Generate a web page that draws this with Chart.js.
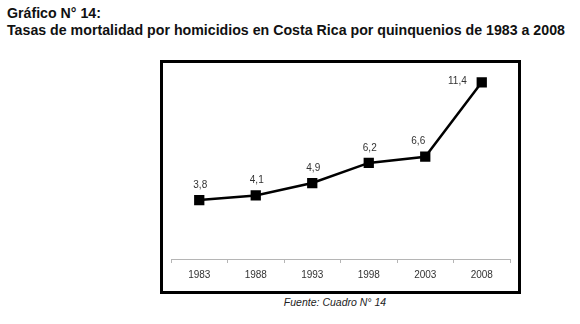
<!DOCTYPE html>
<html>
<head>
<meta charset="utf-8">
<script src="https://cdn.jsdelivr.net/npm/chart.js@4.4.1/dist/chart.umd.min.js"></script>
<style>
  body { margin: 0; background: #fff; width: 580px; height: 324px; position: relative; overflow: hidden; font-family: "Liberation Sans", Arial, sans-serif; }
  .title { position: absolute; left: 7px; top: 5px; font-weight: bold; font-size: 14.2px; line-height: 17px; color: #111; white-space: nowrap; }
  .box { position: absolute; left: 160px; top: 60px; width: 355px; height: 228px; border: 3px solid #000; }
  .source { position: absolute; left: 0; width: 670px; top: 296px; text-align: center; font-style: italic; font-size: 10.5px; color: #222; }
</style>
</head>
<body>
<div class="title" id="title">Gráfico N° 14:<br>Tasas de mortalidad por homicidios en Costa Rica por quinquenios de 1983 a 2008</div>
<div class="box"><canvas id="tasaChart" width="355" height="228"></canvas></div>
<div class="source">Fuente: Cuadro N° 14</div>
<script>
const years = ["1983", "1988", "1993", "1998", "2003", "2008"];
const rates = [3.8, 4.1, 4.9, 6.2, 6.6, 11.4];
const rateLabels = ["3,8", "4,1", "4,9", "6,2", "6,6", "11,4"];

// etiquetas de valor sobre cada punto
const valueLabels = {
  id: "valueLabels",
  afterDatasetsDraw(chart) {
    const ctx = chart.ctx;
    const pts = chart.getDatasetMeta(0).data;
    ctx.save();
    ctx.font = "10px 'Liberation Sans', Arial, sans-serif";
    ctx.fillStyle = "#333";
    ctx.textBaseline = "middle";
    pts.forEach((p, i) => {
      if (i === pts.length - 1) {
        ctx.textAlign = "right";
        ctx.fillText(rateLabels[i], p.x - 15, p.y - 1);
      } else {
        ctx.textAlign = "center";
        const dx = i === 4 ? -7 : 1;
        ctx.fillText(rateLabels[i], p.x + dx, p.y - 15);
      }
    });
    ctx.restore();
  },
};

new Chart(document.getElementById("tasaChart").getContext("2d"), {
  type: "line",
  data: {
    labels: years,
    datasets: [
      {
        data: rates,
        borderColor: "#000",
        borderWidth: 2.5,
        pointStyle: "rect",
        pointRadius: 5.5,
        pointBackgroundColor: "#000",
        pointBorderColor: "#000",
        tension: 0,
      },
    ],
  },
  options: {
    responsive: false,
    animation: false,
    events: [],
    layout: { padding: { left: 4, right: 6, top: 10, bottom: 4 } },
    plugins: { legend: { display: false }, tooltip: { enabled: false } },
    scales: {
      y: { display: false, min: 0, max: 12 },
      x: {
        offset: true,
        border: { display: true, color: "#b5b5b5", width: 1 },
        grid: {
          offset: true,
          drawOnChartArea: false,
          drawTicks: true,
          tickLength: 4,
          color: "#b5b5b5",
        },
        ticks: {
          padding: 6,
          color: "#333",
          font: { family: "'Liberation Sans', Arial, sans-serif", size: 10 },
        },
      },
    },
  },
  plugins: [valueLabels],
});
</script>
</body>
</html>
